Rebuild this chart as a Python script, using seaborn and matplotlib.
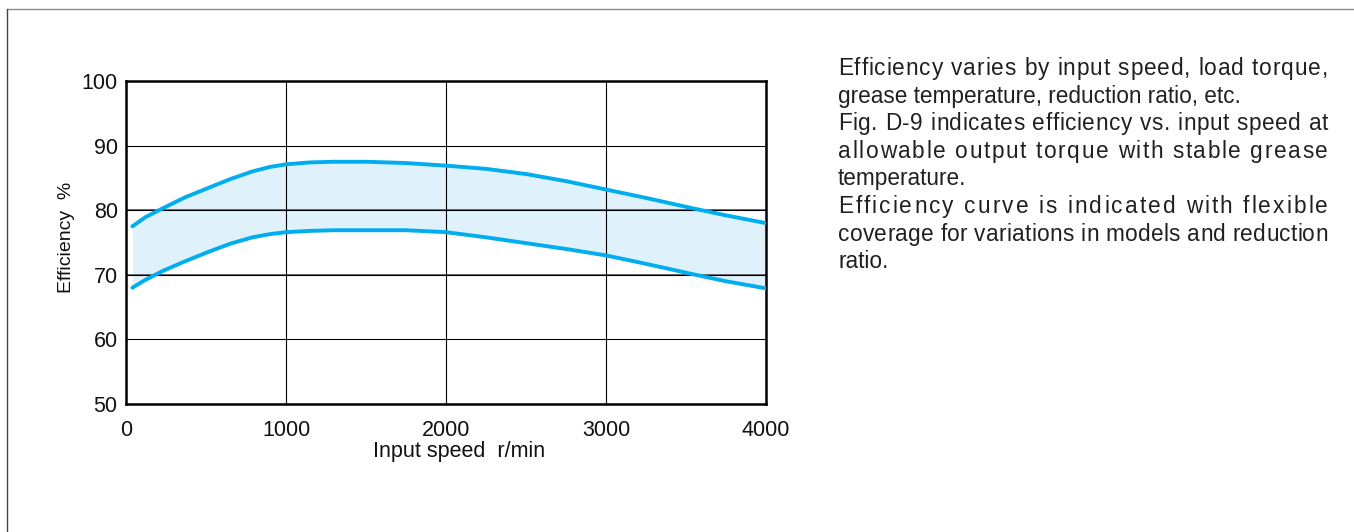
import matplotlib
matplotlib.use("Agg")
import matplotlib.pyplot as plt
from matplotlib.lines import Line2D
import seaborn as sns
import pandas as pd

# values
speed = [40, 120, 230, 370, 510, 650, 790, 900, 1000, 1150, 1300, 1500, 1750,
         2000, 2250, 2500, 2750, 3000, 3250, 3560, 3750, 4000]
upper = [77.5, 78.9, 80.3, 82.0, 83.4, 84.8, 86.0, 86.7, 87.1, 87.4, 87.5, 87.5, 87.3,
         86.9, 86.4, 85.6, 84.5, 83.2, 81.9, 80.2, 79.2, 78.0]
lower = [68.0, 69.2, 70.6, 72.1, 73.5, 74.8, 75.8, 76.3, 76.6, 76.8, 76.9, 76.9, 76.9,
         76.6, 75.8, 74.9, 74.0, 73.0, 71.7, 70.0, 69.0, 67.9]

x_ticks = [0, 1000, 2000, 3000, 4000]
y_ticks = [50, 60, 70, 80, 90, 100]

note_lines = [
    ("Efficiency varies by input speed, load torque,", True),
    ("grease temperature, reduction ratio, etc.", False),
    ("Fig. D-9 indicates efficiency vs. input speed at", True),
    ("allowable output torque with stable grease", True),
    ("temperature.", False),
    ("Efficiency curve is indicated with flexible", True),
    ("coverage for variations in models and reduction", True),
    ("ratio.", False),
]

df = pd.DataFrame({"speed": speed + speed,
                   "eff": upper + lower,
                   "bound": ["upper"] * len(speed) + ["lower"] * len(speed)})

sns.set_style("white")
plt.rcParams["font.family"] = ["Liberation Sans", "DejaVu Sans"]

fig = plt.figure(figsize=(13.54, 5.32), dpi=100)
ax = fig.add_axes([126 / 1354, 1 - 404 / 532, 640 / 1354, 323 / 532])

blue = "#00aeef"
ax.fill_between(speed, lower, upper, color="#dff1fb", linewidth=0, zorder=1)
sns.lineplot(data=df, x="speed", y="eff", hue="bound", palette=[blue, blue],
             linewidth=2.8, legend=False, ax=ax, zorder=3)
for ln in ax.lines:
    ln.set_solid_joinstyle("round")

ax.set_xlim(0, 4000)
ax.set_ylim(50, 100)
ax.set_xticks(x_ticks)
ax.set_yticks(y_ticks)
ax.grid(True, color="black", linewidth=0.8)
ax.set_axisbelow(False)
for gy in [70, 80]:
    ax.axhline(gy, color="#6a6a6a", linewidth=1.4, zorder=2.5)

for s in ax.spines.values():
    s.set_visible(True)
    s.set_color("black")
    s.set_linewidth(1.8)

ax.tick_params(axis="x", length=0, pad=11.5, labelsize=15.5, colors="#111")
ax.tick_params(axis="y", length=0, pad=6, labelsize=15.5, colors="#111")

ax.set_xlabel("Input speed  r/min", fontsize=15.5, color="#111")
ax.set_ylabel("Efficiency  %", fontsize=14, color="#111")
ax.xaxis.set_label_coords(0.52, -0.115)
ax.yaxis.set_label_coords(-0.08, 0.517)

# outer frame
fig.add_artist(Line2D([6.5 / 1354, 1], [1 - 8.5 / 532, 1 - 8.5 / 532],
                      color="#8a8a8a", linewidth=1.0, transform=fig.transFigure))
fig.add_artist(Line2D([6.5 / 1354, 6.5 / 1354], [0, 1 - 8.5 / 532],
                      color="#444444", linewidth=1.0, transform=fig.transFigure))

# justified note text on the right (extra room spread over letter gaps)
left_px, right_px = 838, 1328
base0, step = 75, 27.6
text_kw = dict(fontsize=16.3, color="#231f20", va="baseline", ha="left")
fig.canvas.draw()
renderer = fig.canvas.get_renderer()
probe = fig.text(0, 0, "x", **text_kw)
prop = probe.get_fontproperties()
probe.remove()


def text_w(s):
    return renderer.get_text_width_height_descent(s, prop, ismath=False)[0]


space_w = text_w("a a") - text_w("aa")


def prefix_w(s):
    stripped = s.rstrip(" ")
    if not stripped:
        return len(s) * space_w
    return text_w(stripped) + (len(s) - len(stripped)) * space_w


for i, (line, justify) in enumerate(note_lines):
    yf = 1 - (base0 + i * step) / 532
    if not justify:
        fig.text(left_px / 1354, yf, line, **text_kw)
        continue
    n = len(line)
    delta = (right_px - left_px - text_w(line)) / (n - 1)
    for k, ch in enumerate(line):
        if ch == " ":
            continue
        xpos = left_px + prefix_w(line[:k]) + k * delta
        fig.text(xpos / 1354, yf, ch, **text_kw)

fig.savefig("out.png", dpi=100)
